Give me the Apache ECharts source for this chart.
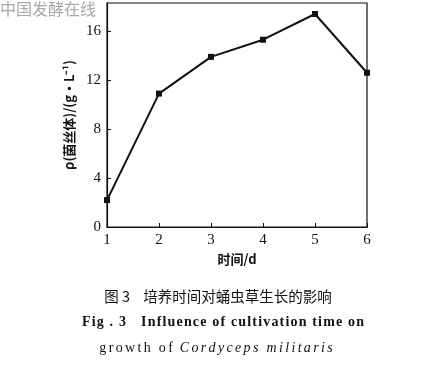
<!DOCTYPE html>
<html><head><meta charset="utf-8">
<script src="https://cdn.jsdelivr.net/npm/echarts@6/dist/echarts.min.js"></script>
<style>html,body{margin:0;padding:0;background:#fff}#c{width:425px;height:366px}</style>
</head><body><div id="c"></div>
<script>
const days = [1, 2, 3, 4, 5, 6];
const mycelium = [2.2, 10.9, 13.9, 15.3, 17.4, 12.6];
const yTicks = [0, 4, 8, 12, 16];
const xTicks = [1, 2, 3, 4, 5, 6];

const chart = echarts.init(document.getElementById('c'));
const serif = '"Liberation Serif", "DejaVu Serif", serif';
const cjk = '"Noto Sans CJK SC", sans-serif';
const spread = (s, sp) => s.split('').join(sp);
const HAIR = '\u200A', SIX = '\u2006', NB = '\u00A0';
chart.setOption({
  animation: false,
  backgroundColor: '#fff',
  grid: { left: 107, right: 58, top: 3, bottom: 139, show: true, borderColor: '#111', borderWidth: 1.2 },
  xAxis: {
    type: 'value', min: 1, max: 6, interval: 1,
    axisLine: { lineStyle: { color: '#111', width: 1.2 } },
    axisTick: { inside: true, length: 4, lineStyle: { color: '#111' } },
    axisLabel: { color: '#111', fontFamily: serif, fontSize: 15, margin: 6,
      formatter: v => xTicks.includes(v) ? String(v) : '' },
    splitLine: { show: false },
    name: '时间/d', nameLocation: 'middle', nameGap: 21,
    nameTextStyle: { color: '#111', fontFamily: cjk, fontSize: 13, fontWeight: 'bold' }
  },
  yAxis: {
    type: 'value', min: 0, max: 18.3, interval: 4,
    axisLine: { lineStyle: { color: '#111', width: 1.2 } },
    axisTick: { inside: true, length: 4, lineStyle: { color: '#111' } },
    axisLabel: { color: '#111', fontFamily: serif, fontSize: 15, margin: 6, showMaxLabel: false,
      formatter: v => yTicks.includes(v) ? String(v) : '' },
    splitLine: { show: false },
    name: 'ρ(菌丝体)/(g·L⁻¹)', nameLocation: 'middle', nameGap: 24, nameRotate: 90,
    nameTextStyle: { color: '#111', fontFamily: cjk, fontSize: 13, fontWeight: 'bold' }
  },
  series: [{
    type: 'line',
    data: days.map((d, i) => [d, mycelium[i]]),
    symbol: 'rect', symbolSize: 6,
    itemStyle: { color: '#111' },
    lineStyle: { color: '#111', width: 2 }
  }],
  graphic: [
    { type: 'text', left: 0, top: 1, style: { text: '中国发酵在线', fill: '#a8a8a8', font: '16px "Noto Sans CJK SC"' } },
    { type: 'text', x: 218, y: 296, style: { text: '图 3    培养时间对蛹虫草生长的影响', fill: '#111', font: '14.5px "Noto Sans CJK SC"', align: 'center', verticalAlign: 'middle' } },
    { type: 'text', x: 223, y: 322, style: { text: spread('Fig . 3   Influence of cultivation time on', HAIR), fill: '#111', font: 'bold 14px "Liberation Serif"', align: 'center', verticalAlign: 'middle' } },
    { type: 'text', x: 216, y: 348, style: {
        text: '{n|' + spread('growth of', SIX) + NB + NB + '}{i|' + spread('Cordyceps militaris', SIX) + '}', align: 'center', verticalAlign: 'middle',
        rich: { n: { fill: '#111', font: '14px "Liberation Serif"' }, i: { fill: '#111', font: 'italic 14px "Liberation Serif"' } } } }
  ]
});
</script></body></html>
